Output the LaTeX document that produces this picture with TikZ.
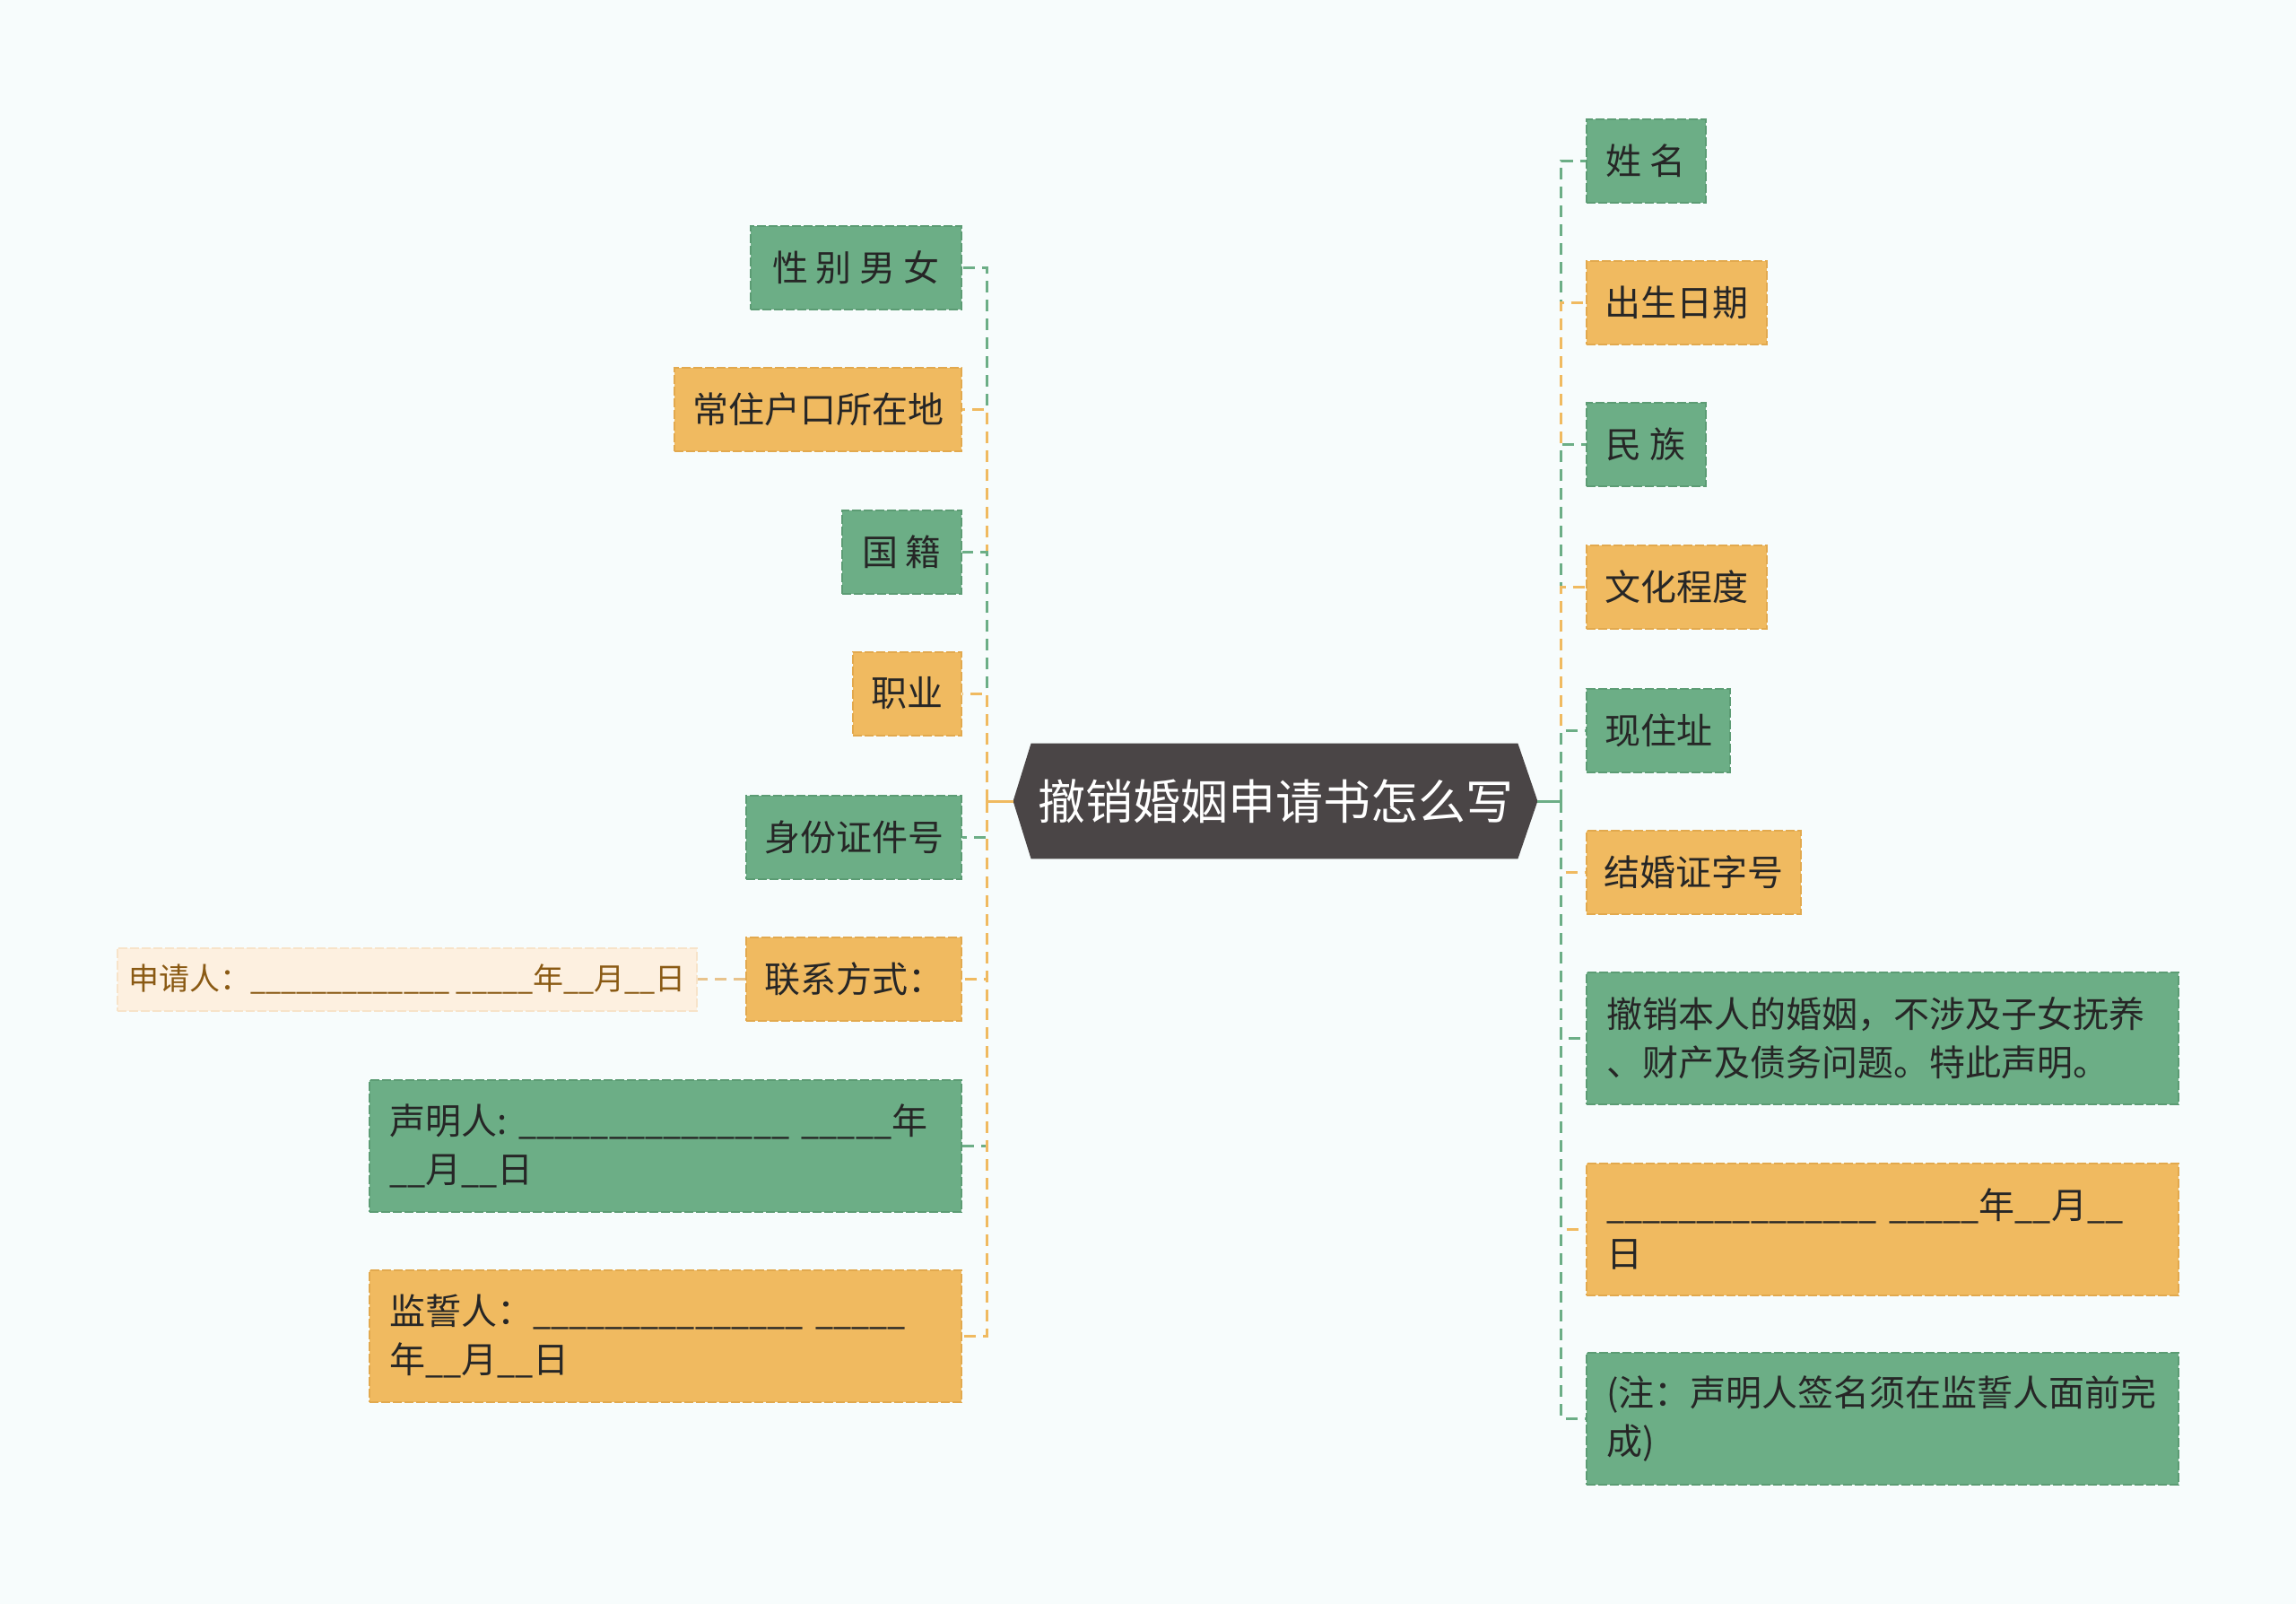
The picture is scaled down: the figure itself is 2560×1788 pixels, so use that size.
\documentclass[tikz,border=0pt]{standalone}
\usepackage{fontspec}
\setmainfont{Noto Sans CJK SC}
\newfontfamily\usf[FakeStretch=0.9]{Noto Sans CJK SC}
\usetikzlibrary{backgrounds}
\definecolor{bgc}{HTML}{F7FCFC}
\definecolor{gfill}{HTML}{6CAE86}
\definecolor{gline}{HTML}{5C9C74}
\definecolor{ofill}{HTML}{F0BA60}
\definecolor{oline}{HTML}{E2A94E}
\definecolor{cfill}{HTML}{FDF0E0}
\definecolor{cline}{HTML}{F7E3C9}
\definecolor{ctext}{HTML}{8A5A14}
\definecolor{cconn}{HTML}{E8C38C}
\definecolor{dark}{HTML}{4A4546}
\definecolor{txt}{HTML}{262626}
\newcommand{\ufive}{{\usf\_\_\_\_\_}}
\newcommand{\utwo}{{\usf\_\_}}
\newcommand{\uthree}{{\usf\_\_\_}}
\begin{document}
\begin{tikzpicture}[x=0.5pt,y=-0.5pt,
  box/.style={rectangle, draw, line width=1pt, dash pattern=on 5pt off 1.5pt,
    text=txt, font=\fontsize{20pt}{27pt}\selectfont, minimum height=46.5pt, inner sep=0pt},
  gbox/.style={box, fill=gfill, draw=gline},
  obox/.style={box, fill=ofill, draw=oline},
  wide/.style={minimum height=73.5pt, text width=308pt, inner xsep=11pt, align=left},
  conn/.style={line width=1.5pt, dash pattern=on 6.5pt off 4pt},
  gconn/.style={conn, draw=gfill},
  oconn/.style={conn, draw=ofill},
  solidconn/.style={line width=1.5pt}
]
\useasboundingbox (0,0) rectangle (2560,1788);

% central node
\node[font=\fontsize{26.5pt}{30pt}\selectfont, text=white, minimum width=292pt,
  minimum height=64pt, inner sep=0pt] (C) at (1422,893) {撤销婚姻申请书怎么写};

% left nodes
\node[gbox, anchor=east, minimum width=117.5pt] (L1) at (1073,298) {性 别 男 女};
\node[obox, anchor=east, minimum width=160pt] (L2) at (1073,456) {常住户口所在地};
\node[gbox, anchor=east, minimum width=66.5pt] (L3) at (1073,615) {国 籍};
\node[obox, anchor=east, minimum width=60.5pt] (L4) at (1073,773) {职业};
\node[gbox, anchor=east, minimum width=120pt] (L5) at (1073,933) {身份证件号};
\node[obox, anchor=east, minimum width=120pt] (L6) at (1073,1091.5) {联系方式：};
\node[gbox, wide, anchor=east] (L7) at (1073,1277) {声明人:~\ufive\ufive\ufive~\ufive 年\\\utwo 月\utwo 日};
\node[obox, wide, anchor=east] (L8) at (1073,1489) {监誓人：\ufive\ufive\ufive~\ufive\\年\utwo 月\utwo 日};
\node[box, fill=cfill, draw=cline, text=ctext, font=\fontsize{17pt}{20pt}\selectfont,
  minimum width=323.3pt, minimum height=35pt] (A) at (454,1091.5)
  {申请人：\ufive\ufive\uthree~\ufive 年\utwo 月\utwo 日};

% right nodes
\node[gbox, anchor=west, minimum width=66.25pt] (R1) at (1768,179) {姓 名};
\node[obox, anchor=west, minimum width=100.5pt] (R2) at (1768,337) {出生日期};
\node[gbox, anchor=west, minimum width=66.25pt] (R3) at (1768,495.5) {民 族};
\node[obox, anchor=west, minimum width=100.5pt] (R4) at (1768,654) {文化程度};
\node[gbox, anchor=west, minimum width=80pt] (R5) at (1768,814) {现住址};
\node[obox, anchor=west, minimum width=119.25pt] (R6) at (1768,972) {结婚证字号};
\node[gbox, wide, anchor=west] (R7) at (1768,1157.5) {撤销本人的婚姻，不涉及子女抚养\\、财产及债务问题。特此声明。};
\node[obox, wide, anchor=west] (R8) at (1768,1370) {\ufive\ufive\ufive~\ufive 年\utwo 月\utwo\\日};
\node[gbox, wide, anchor=west] (R9) at (1768,1581) {(注：声明人签名须在监誓人面前完\\成)};

% trunk points
\coordinate (LT) at (1100.5,893);
\coordinate (RT) at (1740.5,893);

% connectors
\draw[solidconn, ofill] (C.west) -- (LT);
\draw[solidconn, gfill] (C.east) -- (RT);
\foreach \n/\c in {L1/g,L2/o,L3/g,L4/o,L5/g,L6/o,L7/g,L8/o}
  \draw[\c conn] (LT) |- (\n.east);
\foreach \n/\c in {R1/g,R2/o,R3/g,R4/o,R5/g,R6/o,R7/g,R8/o,R9/g}
  \draw[\c conn] (RT) |- (\n.west);
\draw[conn, draw=cconn] (L6.west) -- (A.east);

\begin{scope}[on background layer]
  \fill[bgc] (0,0) rectangle (2560,1788);
  \fill[dark] (C.west) -- ([xshift=10pt]C.north west) -- ([xshift=-11pt]C.north east)
    -- (C.east) -- ([xshift=-11pt]C.south east) -- ([xshift=10pt]C.south west) -- cycle;
\end{scope}
\end{tikzpicture}
\end{document}
